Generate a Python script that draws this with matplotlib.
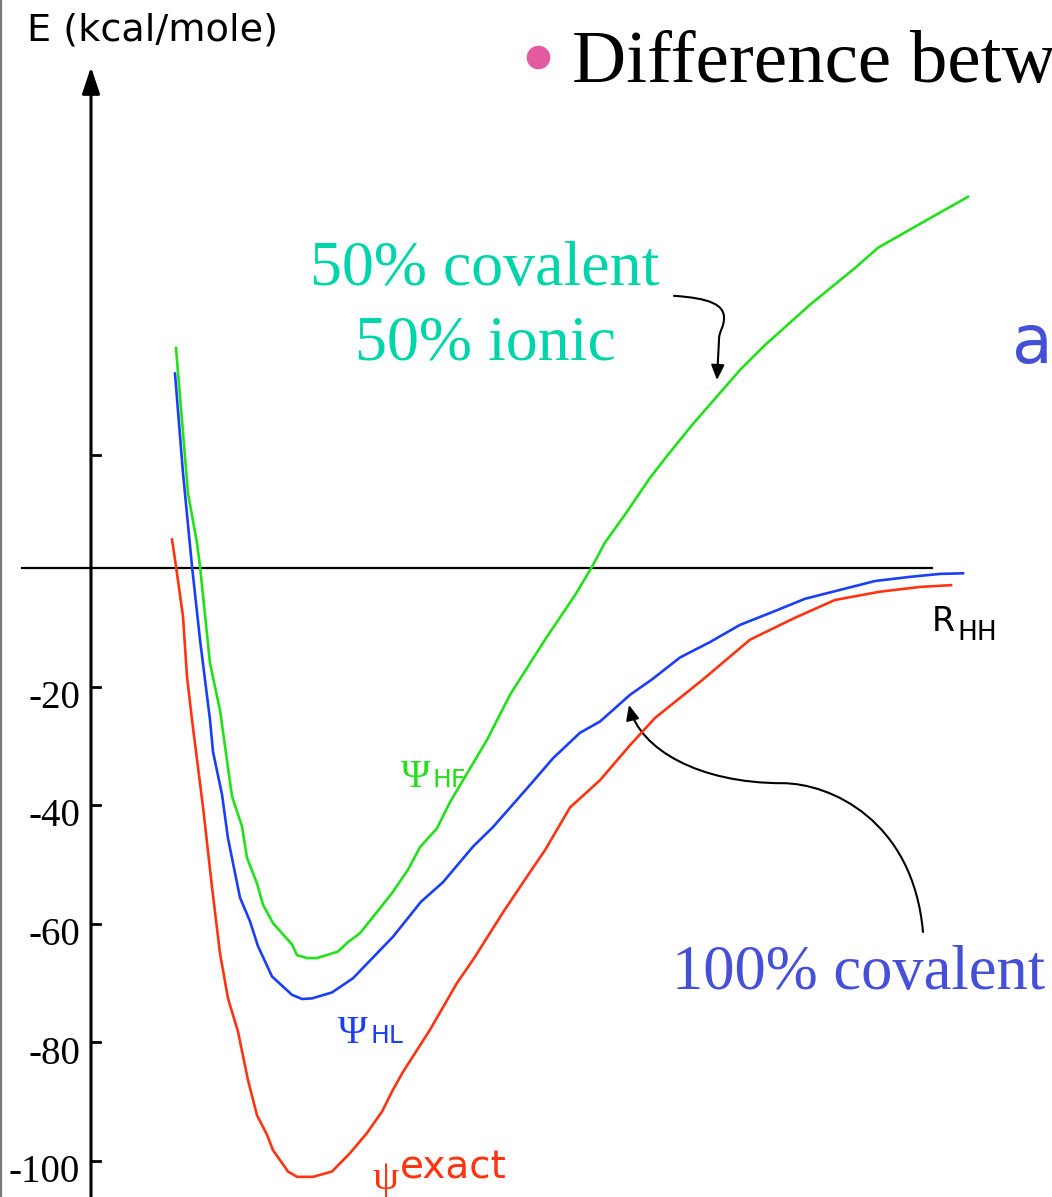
import numpy as np
import matplotlib
matplotlib.use("Agg")
import matplotlib.pyplot as plt
from matplotlib.path import Path
from matplotlib.patches import FancyArrowPatch
from matplotlib.lines import Line2D

# R (arbitrary units, vertical axis at 0) and E (kcal/mole)
r_hf = [0.85, 0.97, 1.06, 1.09, 1.19, 1.29, 1.41, 1.51, 1.56, 1.66, 1.72, 1.82,
        2.01, 2.06, 2.16, 2.26, 2.47, 2.57, 2.69, 2.89, 3.02, 3.17, 3.29, 3.46,
        3.59, 3.96, 4.19, 4.54, 4.84, 5.01, 5.14, 5.34, 5.59, 5.77, 6.01, 6.49,
        6.74, 7.19, 7.64, 7.87, 8.39, 8.77]
e_hf = [37.1, 12.6, 4.2, 0.3, -16.1, -24.0, -38.5, -43.6, -48.9, -53.2, -56.8, -59.9,
        -63.5, -65.3, -65.8, -65.8, -64.7, -63.1, -61.6, -57.4, -54.6, -50.9, -47.1, -43.9,
        -39.5, -29.0, -21.4, -12.1, -4.6, 0.2, 4.3, 9.0, 15.2, 19.1, 24.1, 33.4,
        37.6, 44.4, 50.6, 54.0, 59.0, 62.6]

r_hl = [0.84, 0.92, 1.01, 1.09, 1.19, 1.22, 1.31, 1.37, 1.49, 1.59, 1.67, 1.81,
        2.01, 2.11, 2.21, 2.41, 2.62, 3.02, 3.30, 3.52, 3.82, 4.02, 4.39, 4.62,
        4.89, 5.09, 5.39, 5.61, 5.89, 6.19, 6.49, 6.79, 7.14, 7.49, 7.84, 8.19,
        8.49, 8.72]
e_hl = [32.8, 16.0, 0.3, -12.1, -25.6, -31.0, -38.2, -45.6, -55.6, -59.6, -63.8, -68.9,
        -72.0, -72.7, -72.6, -71.6, -69.2, -62.2, -56.3, -53.0, -47.0, -43.7, -36.6, -32.1,
        -27.8, -25.9, -21.4, -18.8, -15.1, -12.5, -9.6, -7.6, -5.2, -3.7, -2.2, -1.5,
        -1.0, -0.9]

r_ex = [0.81, 0.85, 0.92, 0.96, 1.01, 1.12, 1.21, 1.29, 1.37, 1.47, 1.57, 1.66,
        1.76, 1.82, 1.97, 2.06, 2.22, 2.41, 2.59, 2.76, 2.91, 3.02, 3.12, 3.39,
        3.66, 3.82, 4.12, 4.39, 4.54, 4.79, 5.09, 5.39, 5.64, 6.12, 6.59, 7.04,
        7.44, 7.89, 8.29, 8.60]
e_ex = [4.8, 0.3, -8.2, -18.3, -25.6, -40.3, -53.8, -65.0, -72.6, -78.2, -86.4, -92.3,
        -95.6, -98.2, -101.8, -102.7, -102.7, -101.8, -98.7, -95.3, -91.7, -88.0, -85.0, -77.9,
        -70.0, -66.1, -58.1, -51.3, -47.6, -40.4, -35.8, -29.9, -25.3, -18.8, -12.1, -8.4,
        -5.4, -4.0, -3.2, -2.9]

tick_vals = [-20, -40, -60, -80, -100]
tick_labels = ["-20", "-40", "-60", "-80", "-100"]
upper_tick = 19

green = "#22e01a"
blue = "#1b3ff5"
red = "#ff3411"
teal = "#00d4aa"
purple = "#4650d6"

serif = ["Liberation Serif", "DejaVu Serif"]
sans = ["DejaVu Sans"]

fig = plt.figure(figsize=(10.52, 11.97), dpi=100)
ax = fig.add_axes([0, 0, 1, 1])
ax.set_xlim(-0.91, 9.61)
ax.set_ylim(-106.1, 95.8)
ax.axis("off")

# gray border on the left
fig.add_artist(Line2D([0.001, 0.001], [0, 1], transform=fig.transFigure,
                      color="#7a7a7a", lw=1.6))

# axes
ax.annotate("", xy=(0, 84.5), xytext=(0, -106.1),
            arrowprops=dict(arrowstyle="-|>,head_length=0.6,head_width=0.2",
                            lw=2.2, color="black", mutation_scale=27,
                            shrinkA=0, shrinkB=0))
ax.plot([-0.69, 8.41], [0, 0], color="black", lw=1.6)

for v, lab in zip(tick_vals, tick_labels):
    ax.plot([0.01, 0.09], [v, v], color="black", lw=2)
    ax.text(-0.11, v - 2.0, lab, ha="right", va="center", fontsize=28, family=serif)
ax.plot([0.01, 0.09], [upper_tick, upper_tick], color="black", lw=2)

# curves
ax.plot(r_hf, e_hf, color=green, lw=1.9, zorder=3)
ax.plot(r_hl, e_hl, color=blue, lw=1.9, zorder=3)
ax.plot(r_ex, e_ex, color=red, lw=1.9, zorder=3)

# curve labels
ax.text(3.40, -35.4, "Ψ", color=green, fontsize=29, family=serif, va="center", ha="right", zorder=2)
ax.text(3.41, -35.8, "HF", color=green, fontsize=18, family=sans, va="center", ha="left", zorder=2)
ax.text(2.77, -78.6, "Ψ", color=blue, fontsize=29, family=serif, va="center", ha="right")
ax.text(2.79, -78.9, "HL", color=blue, fontsize=18, family=sans, va="center", ha="left")
ax.text(3.08, -103.0, "ψ", color=red, fontsize=30, family=serif, va="center", ha="right")
ax.text(3.09, -102.9, "exact", color=red, fontsize=28, family=sans, va="baseline", ha="left")

ax.text(8.41, -9.1, "R", fontsize=24, family=sans, va="center", ha="left")
ax.text(8.66, -10.9, "HH", fontsize=19, family=sans, va="center", ha="left")

# texts
ax.text(-0.64, 90.7, "E (kcal/mole)", fontsize=27.5, family=sans, ha="left", va="center")
ax.text(3.94, 47.7, "50% covalent", color=teal, fontsize=46, family=serif,
        ha="center", va="baseline")
ax.text(3.94, 35.1, "50% ionic", color=teal, fontsize=46, family=serif,
        ha="center", va="baseline")
ax.text(5.81, -71.0, "100% covalent", color=purple, fontsize=45, family=serif,
        ha="left", va="baseline")
ax.text(9.21, 34.6, "a", color=purple, fontsize=48, family=sans, ha="left", va="baseline")

ax.plot([4.47], [86.2], marker="o", markersize=17, color="#e25a9f",
        markeredgewidth=0, clip_on=False)
fig.text(572 / 1052, 1 - 82 / 1197, "Difference betw", fontsize=54, family=serif,
         ha="left", va="baseline")

# arrows
p1 = Path([(5.83, 45.9), (6.19, 45.5), (6.33, 44.4), (6.33, 42.2),
           (6.33, 40.5), (6.28, 40.0), (6.28, 38.5), (6.26, 31.7)],
          [Path.MOVETO, Path.CURVE4, Path.CURVE4, Path.CURVE4,
           Path.CURVE4, Path.CURVE4, Path.CURVE4, Path.LINETO])
ax.add_patch(FancyArrowPatch(path=p1, arrowstyle="-|>,head_length=0.5,head_width=0.22",
                             mutation_scale=18, lw=1.5, color="black"))

p2 = Path([(8.32, -61.4), (8.22, -42.5), (7.39, -36.3), (6.91, -36.3),
           (6.09, -36.3), (5.49, -30.7), (5.38, -23.1)],
          [Path.MOVETO, Path.CURVE4, Path.CURVE4, Path.CURVE4,
           Path.CURVE4, Path.CURVE4, Path.CURVE4])
ax.add_patch(FancyArrowPatch(path=p2, arrowstyle="-|>,head_length=0.5,head_width=0.22",
                             mutation_scale=18, lw=1.5, color="black"))

fig.savefig("out.png", dpi=100)
